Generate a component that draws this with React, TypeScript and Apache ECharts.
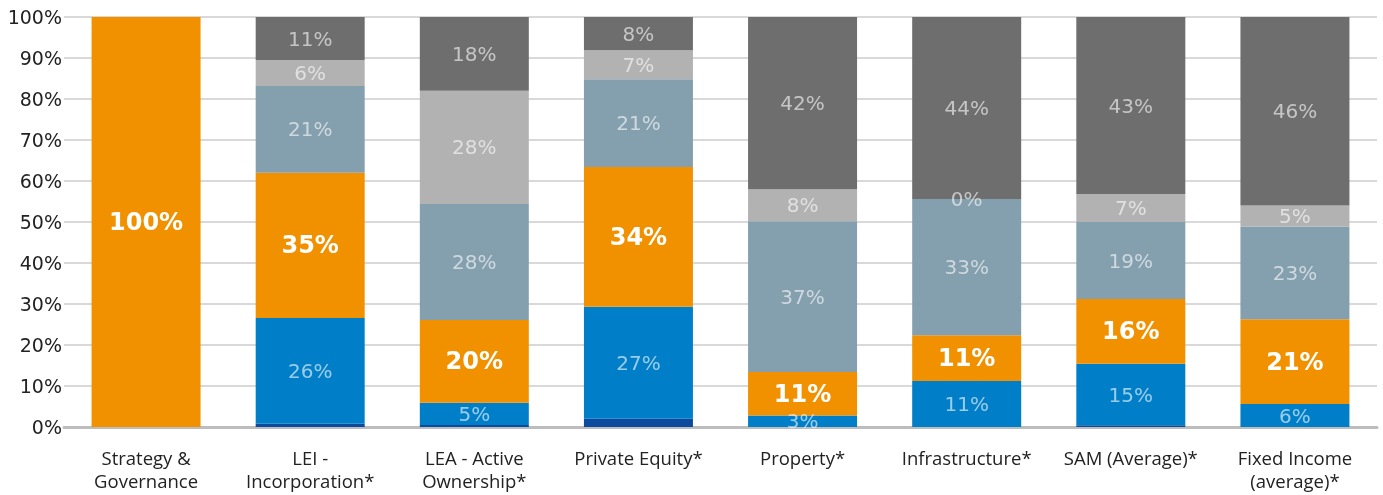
import React, { useEffect, useRef } from "react";
import * as echarts from "echarts";

const categories = [
  "Strategy &\nGovernance",
  "LEI -\nIncorporation*",
  "LEA - Active\nOwnership*",
  "Private Equity*",
  "Property*",
  "Infrastructure*",
  "SAM (Average)*",
  "Fixed Income\n(average)*",
];

const yTicks = [0, 10, 20, 30, 40, 50, 60, 70, 80, 90, 100];

// Segments, bottom to top
const navy = [null, 0.8, 0.5, 2, null, null, 0.4, null];
const blue = [null, 25.8, 5.4, 27.3, 2.8, 11.2, 15, 5.6];
const orange = [100, 35.4, 20.2, 34.1, 10.6, 11.2, 15.8, 20.7];
const blueGrey = [null, 21.2, 28.3, 21.4, 36.8, 33.2, 18.8, 22.6];
const lightGrey = [null, 6.3, 27.6, 7.1, 7.8, 0, 6.8, 5.1];
const darkGrey = [null, 10.5, 18, 8.1, 42, 44.4, 43.2, 46];

const fmt = (p: any) =>
  p.value == null || p.value === "-" ? "" : Math.round(p.value) + "%";

export default function App() {
  const ref = useRef<HTMLDivElement>(null);
  useEffect(() => {
    if (!ref.current) return;
    const chart = echarts.init(ref.current, undefined, { renderer: "svg" });
    const softLabel = {
      show: true,
      position: "inside",
      formatter: fmt,
      color: "rgba(255,255,255,0.6)",
      fontFamily: "DejaVu Sans",
      fontSize: 20,
    };
    const mk = (name: string, data: any[], color: string, label: any) => ({
      name,
      type: "bar",
      stack: "total",
      data,
      barWidth: 109,
      itemStyle: { color },
      label,
      emphasis: { disabled: true },
    });
    chart.setOption({
      animation: false,
      grid: { left: 64, right: 6, top: 17, bottom: 68, containLabel: false },
      xAxis: {
        type: "category",
        data: categories,
        axisLine: { lineStyle: { color: "#BDBDBD", width: 3 } },
        axisTick: { show: false },
        axisLabel: {
          color: "#222",
          fontFamily: "Open Sans",
          fontSize: 18.5,
          lineHeight: 23,
          margin: 19,
          interval: 0,
        },
      },
      yAxis: {
        type: "value",
        min: 0,
        max: 100,
        interval: 10,
        axisLine: { show: false },
        axisTick: { show: false },
        splitLine: { lineStyle: { color: "#D9D9D9", width: 2 } },
        axisLabel: {
          color: "#222",
          fontFamily: "DejaVu Sans",
          fontSize: 19,
          margin: 2,
          formatter: (v: number) => (yTicks.includes(v) ? v + "%" : ""),
        },
      },
      series: [
        mk("navy", navy, "#0B4A9C", { show: false }),
        mk("blue", blue, "#007FC8", softLabel),
        mk("orange", orange, "#F29100", {
          show: true,
          position: "inside",
          formatter: fmt,
          color: "#fff",
          fontWeight: "bold",
          fontFamily: "DejaVu Sans",
          fontSize: 24,
        }),
        mk("blueGrey", blueGrey, "#849FAE", softLabel),
        mk("lightGrey", lightGrey, "#B2B2B2", softLabel),
        mk("darkGrey", darkGrey, "#6E6E6E", softLabel),
      ],
    });
    return () => chart.dispose();
  }, []);
  return (
    <div
      ref={ref}
      style={{ position: "fixed", left: 0, top: 0, width: 1383, height: 495 }}
    />
  );
}
